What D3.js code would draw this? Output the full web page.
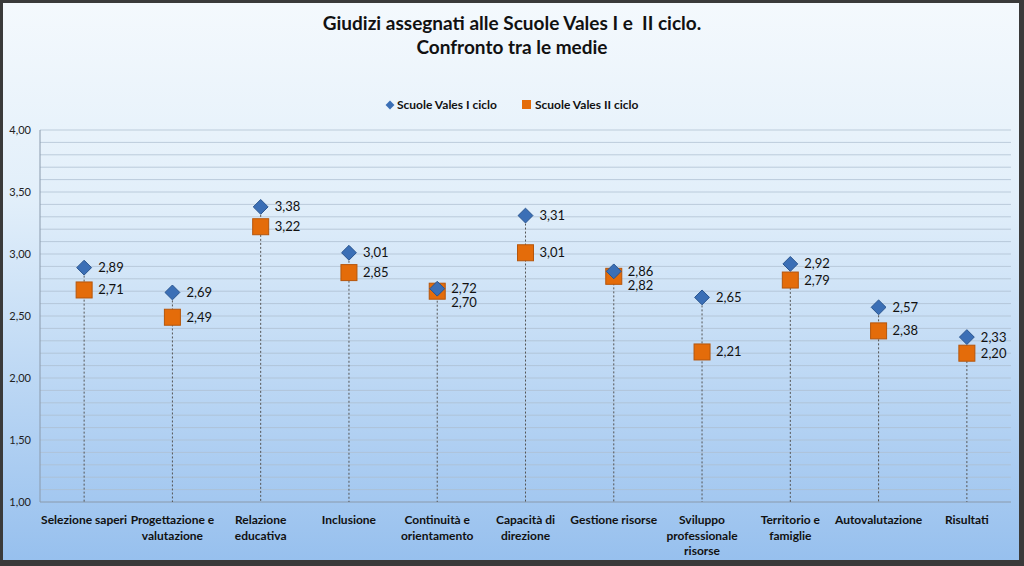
<!DOCTYPE html>
<html>
<head>
<meta charset="utf-8">
<script src="https://cdn.jsdelivr.net/npm/d3@7"></script>
<style>
    body{ margin:0; background:#fff; }
    .ticklabel{ font-size:11px; font-family:Lato, sans-serif; fill:#222; }
    .catlabel{ font-size:12px; font-weight:bold; font-family:Lato, sans-serif; fill:#111; }
    .vallabel{ font-size:13px; font-family:Lato, sans-serif; fill:#111; }
    .title{ font-size:19px; font-weight:bold; font-family:Lato, sans-serif; fill:#111; }
    .legend{ font-size:12px; font-weight:bold; font-family:Lato, sans-serif; fill:#111; }
</style>
</head>
<body>
<script>
let w = 1024, h = 566
let categories = [["Selezione saperi"],["Progettazione e","valutazione"],["Relazione","educativa"],["Inclusione"],["Continuità e","orientamento"],["Capacità di","direzione"],["Gestione risorse"],["Sviluppo","professionale","risorse"],["Territorio e","famiglie"],["Autovalutazione"],["Risultati"]]
let ciclo1 = [2.89,2.69,3.38,3.01,2.72,3.31,2.86,2.65,2.92,2.57,2.33]
let ciclo2 = [2.71,2.49,3.22,2.85,2.70,3.01,2.82,2.21,2.79,2.38,2.20]
let yTicks = [1.0,1.5,2.0,2.5,3.0,3.5,4.0]
let seriesNames = ["Scuole Vales I ciclo","Scuole Vales II ciclo"]

let fmt = v => v.toFixed(2).replace(".", ",")

let svg = d3.select("body").append("svg").attr("width", w).attr("height", h)
let defs = svg.append("defs")
let bg = defs.append("linearGradient").attr("id","bg").attr("x1",0).attr("y1",0).attr("x2",0).attr("y2",1)
bg.append("stop").attr("offset","0%").attr("stop-color","#f4f9fd")
bg.append("stop").attr("offset","35%").attr("stop-color","#e2effa")
bg.append("stop").attr("offset","100%").attr("stop-color","#97c0ee")

// frame
svg.append("rect").attr("width",w).attr("height",h).attr("fill","#3a3a3a")
svg.append("rect").attr("x",3).attr("y",3).attr("width",w-8).attr("height",h-9).attr("fill","url(#bg)")

let pLeft = 40, pRight = 1011, pTop = 130, pBottom = 502
let x = d3.scaleBand().domain(d3.range(categories.length)).range([pLeft,pRight])
let y = d3.scaleLinear().domain([1,4]).range([pBottom,pTop])

// gridlines every 0.1
let g = svg.append("g")
for (let v of d3.range(11,41).map(d=>d/10)){
    g.append("line").attr("x1",pLeft).attr("x2",pRight)
        .attr("y1",y(v)).attr("y2",y(v))
        .attr("stroke","#aebfd0").attr("stroke-opacity",0.75).attr("stroke-width",1)
}
g.append("line").attr("x1",pLeft).attr("x2",pLeft).attr("y1",pTop).attr("y2",pBottom).attr("stroke","#8a9aac")
g.append("line").attr("x1",pLeft).attr("x2",pRight).attr("y1",pBottom).attr("y2",pBottom).attr("stroke","#8a9aac")

// y tick labels
for (let t of yTicks){
    svg.append("text").attr("class","ticklabel").attr("x",31).attr("y",y(t)+4)
        .attr("text-anchor","end").text(fmt(t))
}

// drop lines
categories.forEach((c,i)=>{
    let cx = x(i)+x.bandwidth()/2
    svg.append("line").attr("x1",cx).attr("x2",cx)
        .attr("y1",y(Math.max(ciclo1[i],ciclo2[i]))).attr("y2",pBottom)
        .attr("stroke","#555").attr("stroke-width",1).attr("stroke-dasharray","2,2")
})

// markers
categories.forEach((c,i)=>{
    let cx = x(i)+x.bandwidth()/2
    svg.append("rect").attr("x",cx-8).attr("y",y(ciclo2[i])-8).attr("width",16).attr("height",16)
        .attr("fill","#e46c0a").attr("stroke","#b5560c").attr("stroke-width",1)
    svg.append("path").attr("d",d3.symbol(d3.symbolDiamond2, 140)())
        .attr("transform","translate("+cx+","+y(ciclo1[i])+")")
        .attr("fill","#3b6fb6").attr("stroke","#2a558f").attr("stroke-width",1)
    // labels: push the lower one down if they collide
    let y1 = y(ciclo1[i]), y2 = y(ciclo2[i])
    if (y2 - y1 < 14){
        y2 = y1 + 14
    }
    svg.append("text").attr("class","vallabel").attr("x",cx+14).attr("y",y1+4.5).text(fmt(ciclo1[i]))
    svg.append("text").attr("class","vallabel").attr("x",cx+14).attr("y",y2+4.5).text(fmt(ciclo2[i]))
})

// category labels
categories.forEach((c,i)=>{
    let cx = x(i)+x.bandwidth()/2
    let t = svg.append("text").attr("class","catlabel").attr("text-anchor","middle")
    c.forEach((line,j)=>{
        t.append("tspan").attr("x",cx).attr("y",524+j*15.5).text(line)
    })
})

// title
svg.append("text").attr("class","title").attr("x",512).attr("y",30).attr("text-anchor","middle")
    .style("white-space","pre").text("Giudizi assegnati alle Scuole Vales I e  II ciclo.")
svg.append("text").attr("class","title").attr("x",512).attr("y",54).attr("text-anchor","middle")
    .text("Confronto tra le medie")

// legend
let lg = svg.append("g")
lg.append("path").attr("d",d3.symbol(d3.symbolDiamond2, 50)()).attr("transform","translate(390,105)")
    .attr("fill","#3b6fb6")
lg.append("text").attr("class","legend").attr("x",397).attr("y",109).text(seriesNames[0])
lg.append("rect").attr("x",522).attr("y",100).attr("width",9).attr("height",9).attr("fill","#e46c0a")
lg.append("text").attr("class","legend").attr("x",535).attr("y",109).text(seriesNames[1])
</script>
</body>
</html>
